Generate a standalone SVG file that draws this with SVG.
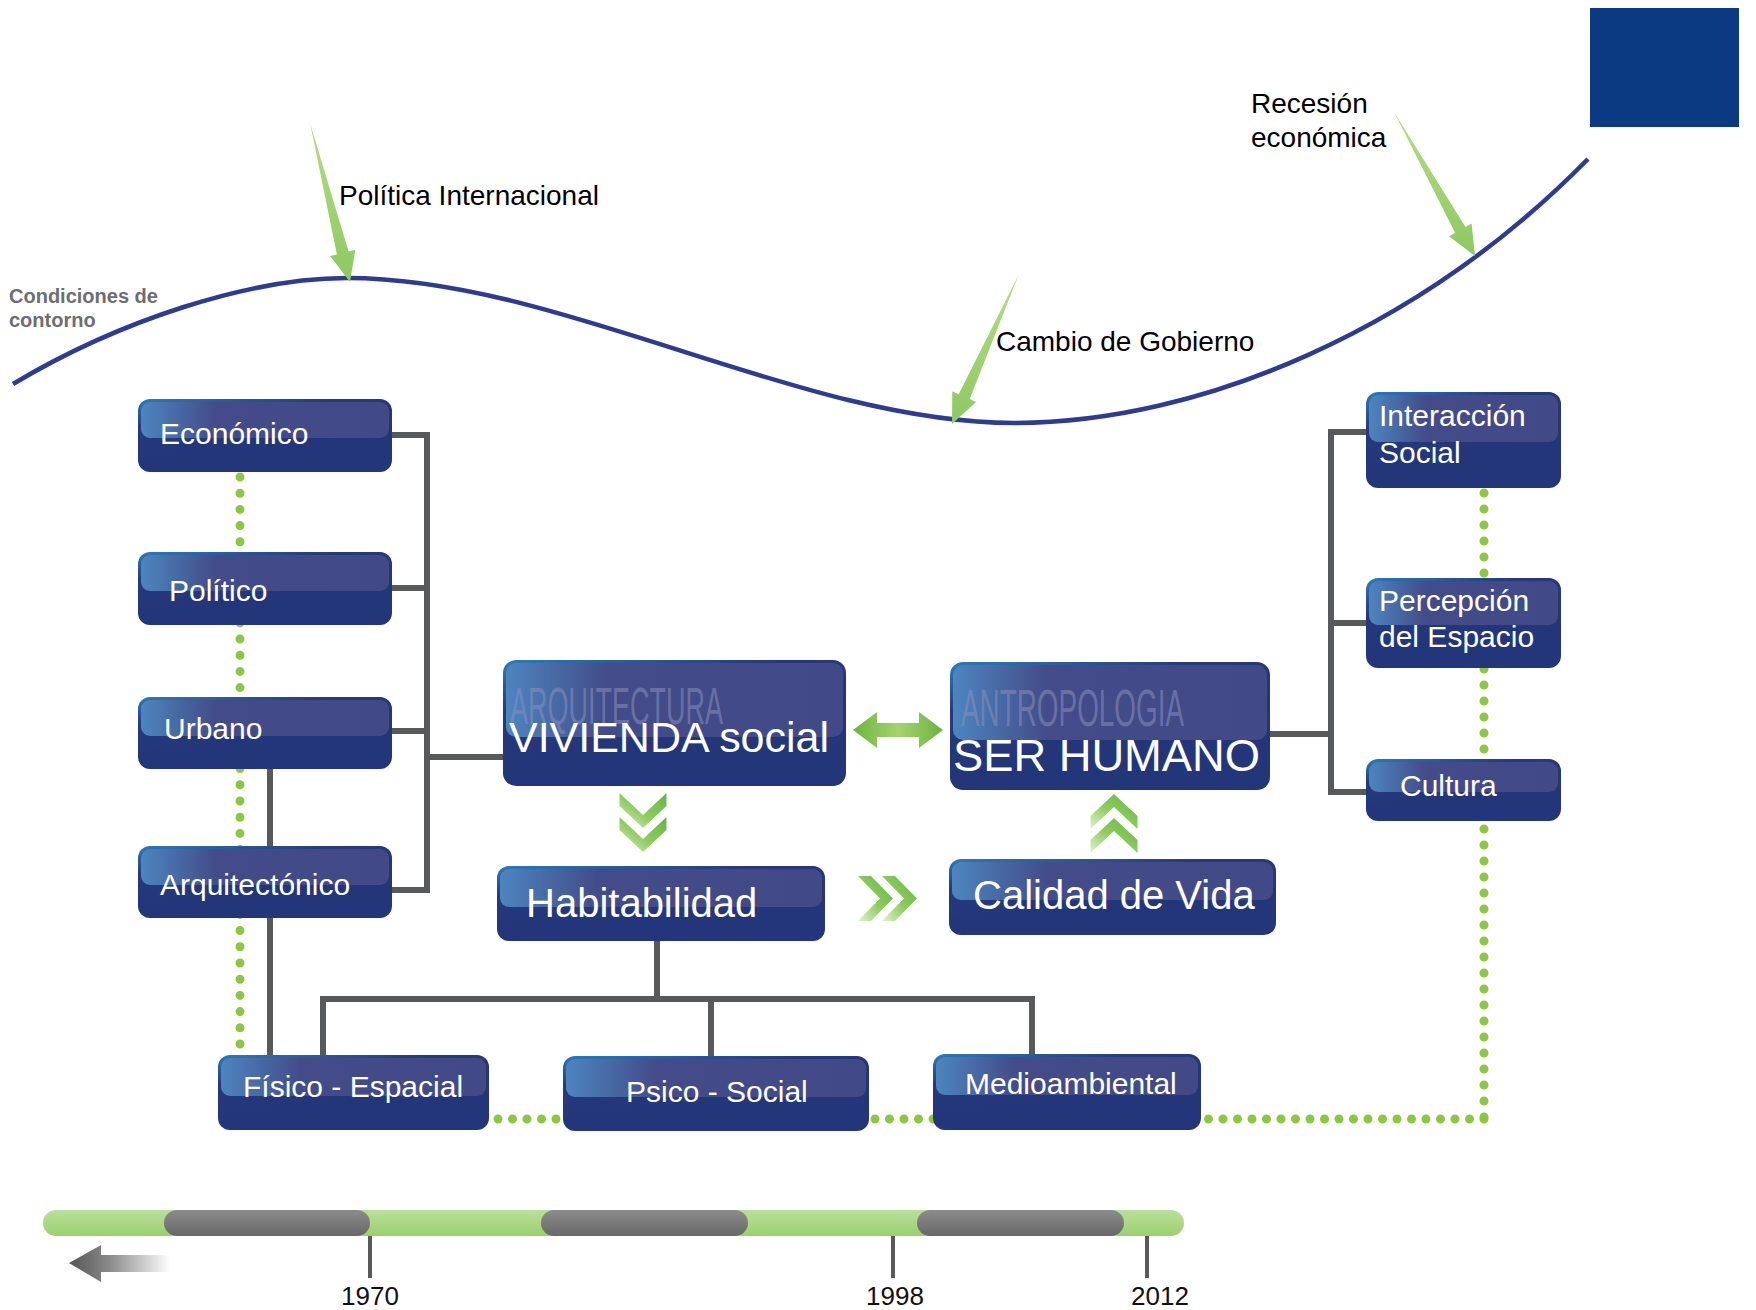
<svg xmlns="http://www.w3.org/2000/svg" width="1756" height="1310" viewBox="0 0 1756 1310">
<style>
.base{fill:url(#gBase);}
.gloss{fill:url(#gGloss);}
.t{font-family:"Liberation Sans",Arial,sans-serif;fill:#ffffff;font-size:30px;}
.lbl{font-family:"Liberation Sans",Arial,sans-serif;fill:#000000;font-size:28px;}
.yr{font-family:"Liberation Sans",Arial,sans-serif;fill:#111111;font-size:26px;text-anchor:middle;}
.bg{font-family:"Liberation Sans",Arial,sans-serif;fill:#8a90c2;fill-opacity:0.55;font-size:52px;}
.cond{font-family:"Liberation Sans",Arial,sans-serif;font-weight:bold;font-size:20px;fill:#6d6e71;}
.gray{fill:none;stroke:#58595b;stroke-width:6;}
.dots{fill:none;stroke:#8dc63f;stroke-width:9;stroke-linecap:round;}
.garrow{fill:url(#gArrow);}
.chev{fill:url(#gChev);}
</style>
<defs>
<linearGradient id="gBase" x1="0" y1="0" x2="0.35" y2="0.7">
<stop offset="0" stop-color="#2b7dbd"/>
<stop offset="0.45" stop-color="#26397c"/>
<stop offset="1" stop-color="#24367a"/>
</linearGradient>
<linearGradient id="gGloss" x1="0" y1="0" x2="1" y2="0">
<stop offset="0" stop-color="#4d85bf"/>
<stop offset="0.3" stop-color="#434c88"/>
<stop offset="1" stop-color="#414a86"/>
</linearGradient>
<linearGradient id="gArrow" x1="0" y1="0" x2="0" y2="1">
<stop offset="0" stop-color="#b6dd80"/>
<stop offset="1" stop-color="#8cc963"/>
</linearGradient>
<linearGradient id="gDbl" x1="0" y1="0" x2="1" y2="0">
<stop offset="0" stop-color="#6db33f"/>
<stop offset="0.5" stop-color="#a3d46e"/>
<stop offset="1" stop-color="#6db33f"/>
</linearGradient>
<linearGradient id="gChev" x1="1" y1="0" x2="0" y2="1">
<stop offset="0" stop-color="#62b443"/>
<stop offset="0.55" stop-color="#8fcc60"/>
<stop offset="1" stop-color="#e2f1d2"/>
</linearGradient>
<linearGradient id="gBar" x1="0" y1="0" x2="0" y2="1">
<stop offset="0" stop-color="#b9e09d"/>
<stop offset="1" stop-color="#9ccf6d"/>
</linearGradient>
<linearGradient id="gSeg" x1="0" y1="0" x2="0" y2="1">
<stop offset="0" stop-color="#8c8c8c"/>
<stop offset="1" stop-color="#686868"/>
</linearGradient>
<linearGradient id="gLeft" x1="0" y1="0" x2="1" y2="0">
<stop offset="0" stop-color="#555555"/>
<stop offset="0.4" stop-color="#8a8a8a"/>
<stop offset="1" stop-color="#ffffff"/>
</linearGradient>
</defs>
<rect width="1756" height="1310" fill="#ffffff"/>

<g id="corner-square"><rect x="1590" y="8" width="149" height="119" fill="#0b3a82"/></g>

<g id="wave">
<path d="M13,384 C120,320 250,278 347,278 C560,278 800,423 1014,423 C1200,423 1420,330 1588,159" fill="none" stroke="#2e3b91" stroke-width="4.5"/>
<text class="cond" x="9" y="303">Condiciones de</text>
<text class="cond" x="9" y="327">contorno</text>
</g>

<g id="event-politica">
<polygon class="garrow" points="310,123 348.6,251.5 355.3,249.8 350,282 330.1,256 336.9,254.4"/>
<text class="lbl" x="339" y="205">Política Internacional</text>
</g>
<g id="event-cambio">
<polygon class="garrow" points="1019,274 969.7,399 976.1,401.9 952,424 952.3,391.3 958.7,394.2"/>
<text class="lbl" x="996" y="351">Cambio de Gobierno</text>
</g>
<g id="event-recesion">
<polygon class="garrow" points="1394,112 1465.5,226.9 1471.6,223.4 1475,256 1449,236.2 1455.1,232.8"/>
<text class="lbl" x="1251" y="113">Recesión</text>
<text class="lbl" x="1251" y="147">económica</text>
</g>

<g id="connectors">
<path class="dots" stroke-dasharray="0 16.2" d="M240,477 V1055"/>
<path class="dots" stroke-dasharray="0 14.5" d="M1484,1119 H489"/>
<path class="dots" stroke-dasharray="0 16.0" d="M1484,493 V1119"/>
<path class="gray" d="M392,435 H427 V890 H392 M392,588 H427 M392,731 H427 M427,757 H503"/>
<path class="gray" d="M270,769 V1055"/>
<path class="gray" d="M657,941 V999 M323,1055 V999 H1032 V1054 M711,999 V1056"/>
<path class="gray" d="M1366,432 H1331 V792 H1366 M1331,623 H1366 M1270,734 H1331"/>
<polygon fill="url(#gDbl)" points="853,730 877,712 877,723 919,723 919,712 943,730 919,748 919,737 877,737 877,748"/>
<g id="chev-down">
<polygon class="chev" points="619.5,793 643,815 666.5,793 666.5,806 643,828 619.5,806"/>
<polygon class="chev" points="619.5,817 643,839 666.5,817 666.5,830 643,852 619.5,830"/>
</g>
<g id="chev-up">
<polygon class="chev" points="1090.5,853 1114,831 1137.5,853 1137.5,840 1114,818 1090.5,840"/>
<polygon class="chev" points="1090.5,829 1114,807 1137.5,829 1137.5,816 1114,794 1090.5,816"/>
</g>
<g id="chev-right">
<polygon class="chev" points="858,876 871,876 893,898.5 871,921 858,921 880,898.5"/>
<polygon class="chev" points="882,876 895,876 917,898.5 895,921 882,921 904,898.5"/>
</g>
</g>

<g id="n-economico">
<rect class="base" x="138" y="399" width="254" height="73" rx="12"/>
<rect class="gloss" x="141" y="402" width="248" height="36" rx="9"/>
<text class="t" x="160" y="444">Económico</text>
</g>
<g id="n-politico">
<rect class="base" x="138" y="552" width="254" height="73" rx="12"/>
<rect class="gloss" x="141" y="555" width="248" height="36" rx="9"/>
<text class="t" x="169" y="601">Político</text>
</g>
<g id="n-urbano">
<rect class="base" x="138" y="697" width="254" height="72" rx="12"/>
<rect class="gloss" x="141" y="700" width="248" height="36" rx="9"/>
<text class="t" x="164" y="739">Urbano</text>
</g>
<g id="n-arquitectonico">
<rect class="base" x="138" y="846" width="254" height="72" rx="12"/>
<rect class="gloss" x="141" y="849" width="248" height="36" rx="9"/>
<text class="t" x="160" y="895">Arquitectónico</text>
</g>

<g id="n-interaccion">
<rect class="base" x="1366" y="392" width="195" height="96" rx="12"/>
<rect class="gloss" x="1369" y="395" width="189" height="47" rx="9"/>
<text class="t" x="1379" y="426">Interacción</text>
<text class="t" x="1379" y="463">Social</text>
</g>
<g id="n-percepcion">
<rect class="base" x="1366" y="578" width="195" height="90" rx="12"/>
<rect class="gloss" x="1369" y="581" width="189" height="44" rx="9"/>
<text class="t" x="1379" y="611">Percepción</text>
<text class="t" x="1379" y="647">del Espacio</text>
</g>
<g id="n-cultura">
<rect class="base" x="1366" y="759" width="195" height="62" rx="12"/>
<rect class="gloss" x="1369" y="762" width="189" height="30" rx="9"/>
<text class="t" x="1400" y="796">Cultura</text>
</g>

<g id="n-vivienda">
<rect class="base" x="503" y="660" width="343" height="126" rx="13"/>
<rect class="gloss" x="506" y="663" width="337" height="74" rx="10"/>
<text class="bg" x="510" y="724" textLength="213" lengthAdjust="spacingAndGlyphs">ARQUITECTURA</text>
<text class="t" x="509" y="752" style="font-size:42px" textLength="320" lengthAdjust="spacingAndGlyphs">VIVIENDA social</text>
</g>
<g id="n-serhumano">
<rect class="base" x="950" y="662" width="320" height="128" rx="13"/>
<rect class="gloss" x="953" y="665" width="314" height="75" rx="10"/>
<text class="bg" x="961" y="726" textLength="223" lengthAdjust="spacingAndGlyphs">ANTROPOLOGIA</text>
<text class="t" x="953" y="771" style="font-size:45px" textLength="307" lengthAdjust="spacingAndGlyphs">SER HUMANO</text>
</g>
<g id="n-habitabilidad">
<rect class="base" x="497" y="866" width="328" height="75" rx="12"/>
<rect class="gloss" x="500" y="869" width="322" height="38" rx="9"/>
<text class="t" x="526" y="917" style="font-size:40px">Habitabilidad</text>
</g>
<g id="n-calidad">
<rect class="base" x="949" y="859" width="327" height="76" rx="12"/>
<rect class="gloss" x="952" y="862" width="321" height="38" rx="9"/>
<text class="t" x="973" y="909" style="font-size:40px">Calidad de Vida</text>
</g>

<g id="n-fisico">
<rect class="base" x="218" y="1055" width="271" height="75" rx="12"/>
<rect class="gloss" x="221" y="1058" width="265" height="38" rx="9"/>
<text class="t" x="243" y="1097">Físico - Espacial</text>
</g>
<g id="n-psico">
<rect class="base" x="563" y="1056" width="306" height="75" rx="12"/>
<rect class="gloss" x="566" y="1059" width="300" height="38" rx="9"/>
<text class="t" x="626" y="1102">Psico - Social</text>
</g>
<g id="n-medio">
<rect class="base" x="933" y="1054" width="268" height="76" rx="12"/>
<rect class="gloss" x="936" y="1057" width="262" height="38" rx="9"/>
<text class="t" x="965" y="1094">Medioambiental</text>
</g>

<g id="timeline">
<rect x="43" y="1210" width="1141" height="26" rx="13" fill="url(#gBar)"/>
<rect x="164" y="1210" width="206" height="26" rx="13" fill="url(#gSeg)"/>
<rect x="541" y="1210" width="207" height="26" rx="13" fill="url(#gSeg)"/>
<rect x="917" y="1210" width="207" height="26" rx="13" fill="url(#gSeg)"/>
<path d="M370,1236 V1278 M893,1236 V1278 M1147,1236 V1278" stroke="#58595b" stroke-width="4" fill="none"/>
<polygon fill="url(#gLeft)" points="69,1263 101,1245 101,1255 170,1255 170,1272 101,1272 101,1282"/>
<text class="yr" x="370" y="1305">1970</text>
<text class="yr" x="895" y="1305">1998</text>
<text class="yr" x="1160" y="1305">2012</text>
</g>
</svg>
